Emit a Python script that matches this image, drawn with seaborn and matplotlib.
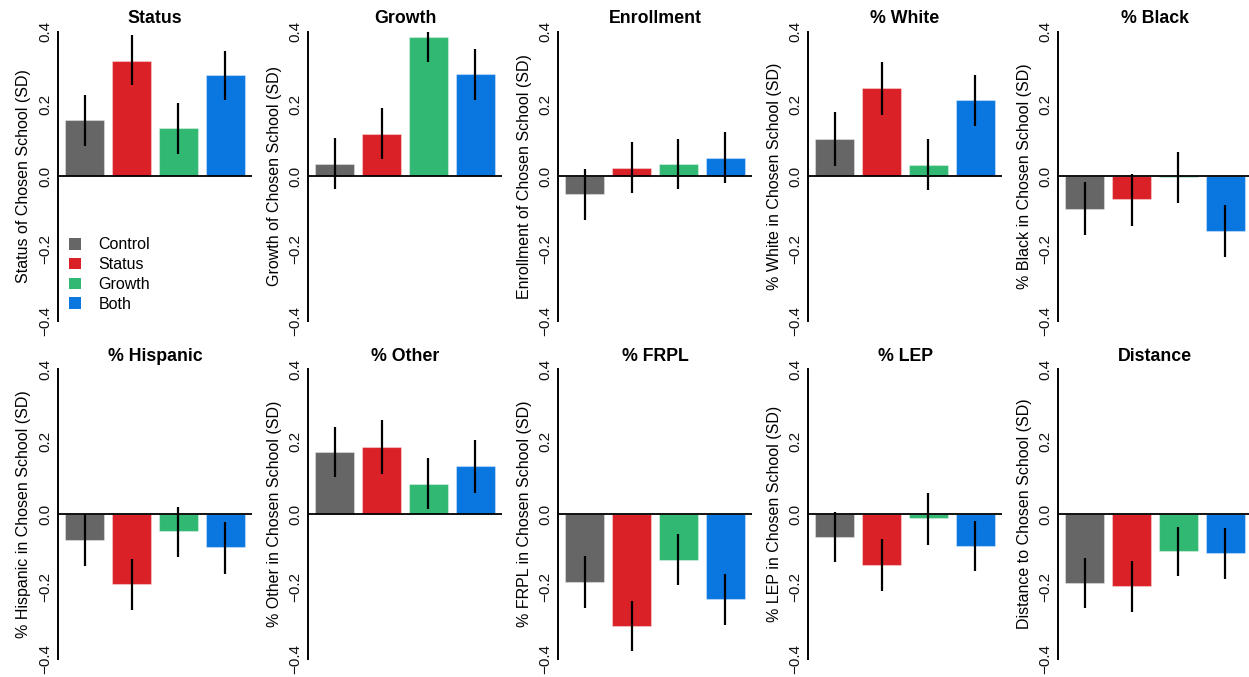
import numpy as np
import pandas as pd
import matplotlib
matplotlib.use("Agg")
import matplotlib.pyplot as plt
import seaborn as sns
from matplotlib.patches import Patch

groups = ["Control", "Status", "Growth", "Both"]
colors = ["#666666", "#DB2128", "#31B872", "#0A77E1"]

titles = ["Status", "Growth", "Enrollment", "% White", "% Black",
          "% Hispanic", "% Other", "% FRPL", "% LEP", "Distance"]
ylabels = ["Status of Chosen School (SD)", "Growth of Chosen School (SD)",
           "Enrollment of Chosen School (SD)", "% White in Chosen School (SD)",
           "% Black in Chosen School (SD)", "% Hispanic in Chosen School (SD)",
           "% Other in Chosen School (SD)", "% FRPL in Chosen School (SD)",
           "% LEP in Chosen School (SD)", "Distance to Chosen School (SD)"]

status_est = [0.157, 0.320, 0.134, 0.279]
status_lo = [0.084, 0.252, 0.063, 0.211]
status_hi = [0.226, 0.391, 0.204, 0.348]

growth_est = [0.035, 0.118, 0.384, 0.283]
growth_lo = [-0.036, 0.047, 0.316, 0.212]
growth_hi = [0.107, 0.188, 0.452, 0.353]

enroll_est = [-0.048, 0.024, 0.035, 0.052]
enroll_lo = [-0.122, -0.046, -0.034, -0.019]
enroll_hi = [0.021, 0.095, 0.104, 0.124]

white_est = [0.104, 0.243, 0.032, 0.210]
white_lo = [0.030, 0.171, -0.039, 0.139]
white_hi = [0.178, 0.315, 0.102, 0.279]

black_est = [-0.090, -0.064, -0.003, -0.150]
black_lo = [-0.163, -0.136, -0.074, -0.222]
black_hi = [-0.016, 0.007, 0.067, -0.078]

hisp_est = [-0.071, -0.193, -0.047, -0.092]
hisp_lo = [-0.144, -0.264, -0.117, -0.166]
hisp_hi = [0.000, -0.123, 0.020, -0.021]

other_est = [0.172, 0.186, 0.084, 0.133]
other_lo = [0.102, 0.112, 0.013, 0.059]
other_hi = [0.242, 0.259, 0.154, 0.206]

frpl_est = [-0.187, -0.309, -0.126, -0.234]
frpl_lo = [-0.258, -0.379, -0.196, -0.305]
frpl_hi = [-0.116, -0.240, -0.056, -0.166]

lep_est = [-0.063, -0.140, -0.012, -0.088]
lep_lo = [-0.133, -0.211, -0.084, -0.157]
lep_hi = [0.006, -0.069, 0.058, -0.018]

dist_est = [-0.189, -0.199, -0.102, -0.107]
dist_lo = [-0.260, -0.270, -0.171, -0.178]
dist_hi = [-0.120, -0.128, -0.035, -0.037]

yticks = [-0.4, -0.2, 0.0, 0.2, 0.4]
yticklabels = ["\u22120.4", "\u22120.2", "0.0", "0.2", "0.4"]

panels = [
    (status_est, status_lo, status_hi),
    (growth_est, growth_lo, growth_hi),
    (enroll_est, enroll_lo, enroll_hi),
    (white_est, white_lo, white_hi),
    (black_est, black_lo, black_hi),
    (hisp_est, hisp_lo, hisp_hi),
    (other_est, other_lo, other_hi),
    (frpl_est, frpl_lo, frpl_hi),
    (lep_est, lep_lo, lep_hi),
    (dist_est, dist_lo, dist_hi),
]

sns.set_style("white")
plt.rcParams["font.family"] = ["Liberation Sans", "DejaVu Sans"]
plt.rcParams["text.color"] = "black"
plt.rcParams["axes.labelcolor"] = "black"
plt.rcParams["ytick.color"] = "black"

W, H = 1249, 677
fig = plt.figure(figsize=(W / 100, H / 100), dpi=100)

for i, (est, lo, hi) in enumerate(panels):
    r, c = divmod(i, 5)
    left = (58 + 250 * c) / W
    if r == 0:
        bottom, height = 1 - 321 / H, 289.3 / H
    else:
        bottom, height = 1 - 659 / H, 289.7 / H
    ax = fig.add_axes([left, bottom, 194 / W, height])
    df = pd.DataFrame({"group": groups, "value": est})
    sns.barplot(data=df, x="group", y="value", hue="group", order=groups,
                hue_order=groups, palette=colors, saturation=1, width=0.833,
                errorbar=None, legend=False, ax=ax,
                edgecolor=(1, 1, 1, 0.35), linewidth=0.8)
    ax.vlines(np.arange(len(groups)), lo, hi, color="black", lw=1.6, zorder=4)
    ax.axhline(0, color="black", lw=1.3, zorder=5)
    ax.set_xlim(-0.57, 3.57)
    ax.set_ylim(-0.4, 0.4)
    for s in ["top", "right", "bottom"]:
        ax.spines[s].set_visible(False)
    ax.spines["left"].set_color("black")
    ax.spines["left"].set_linewidth(1.4)
    ax.set_xticks([])
    ax.set_xlabel("")
    ax.set_yticks(yticks)
    ax.set_yticklabels(yticklabels, rotation=90, va="center", fontsize=11,
                       color="#111111")
    ax.tick_params(axis="y", length=0, pad=4)
    ax.set_ylabel(ylabels[i], fontsize=11.5, labelpad=5, color="black")
    ax.set_title(titles[i], fontweight="bold", fontsize=12.8, pad=6,
                 color="black")

    if i == 0:
        handles = [Patch(facecolor=col, edgecolor="none", label=g)
                   for g, col in zip(groups, colors)]
        ax.legend(handles=handles, loc="upper left",
                  bbox_to_anchor=(0.04, 0.30), frameon=False, fontsize=11.5,
                  handlelength=0.75, handleheight=0.75, handletextpad=1.1,
                  labelspacing=0.3, borderaxespad=0, borderpad=0.2)

fig.savefig("out.png", dpi=100)
